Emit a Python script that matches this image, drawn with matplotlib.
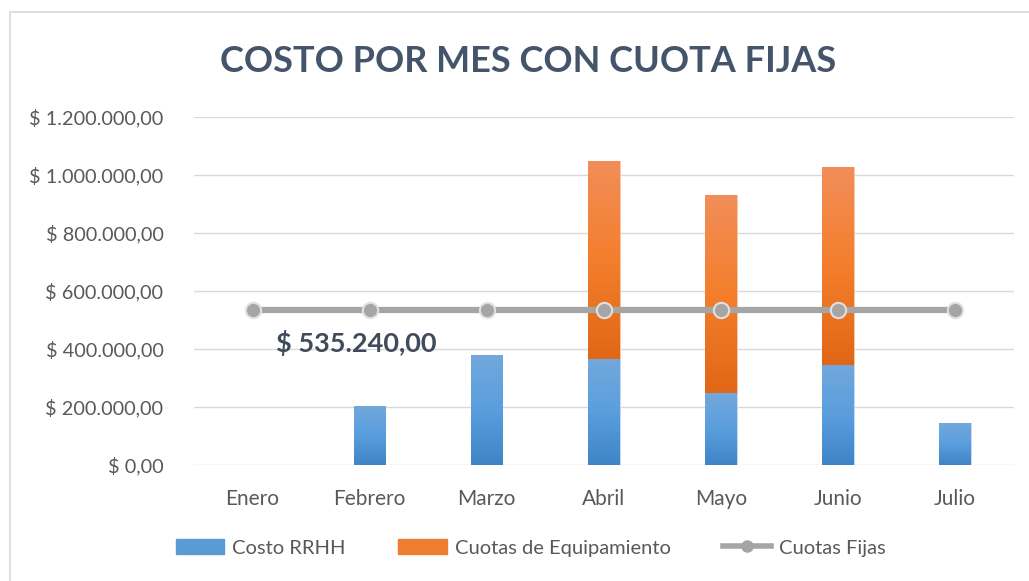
import numpy as np
import matplotlib
matplotlib.use("Agg")
import matplotlib.pyplot as plt
from matplotlib.patches import Rectangle, Patch
from matplotlib.lines import Line2D
from matplotlib.colors import LinearSegmentedColormap
from matplotlib.ticker import FuncFormatter

meses = ["Enero", "Febrero", "Marzo", "Abril", "Mayo", "Junio", "Julio"]
costo_rrhh = [0, 204000, 378000, 364000, 248000, 343000, 144000]
cuotas_equip = [0, 0, 0, 684000, 682000, 683000, 0]
cuotas_fijas = [535240, 535240, 535240, 535240, 535240, 535240, 535240]

plt.rcParams['font.family'] = ['Lato', 'DejaVu Sans']


def fmt_pesos(v, pos=None):
    s = f"{v:,.2f}"
    s = s.replace(",", "X").replace(".", ",").replace("X", ".")
    return "$ " + s


fig = plt.figure(figsize=(10.29, 5.81), dpi=100)
ax = fig.add_axes([0.1885, 0.1997, 0.7965, 0.599])

# chart frame
fig.patches.append(Rectangle((10 / 1029, -0.2), 1.2, 1.2 - 12 / 581, transform=fig.transFigure,
                             fill=False, edgecolor="#D9D9D9", lw=1.2, zorder=0))

x = np.arange(len(meses))
w = 0.27
blue_cmap = LinearSegmentedColormap.from_list("b", ["#3F84C6", "#5A9EDE", "#72A8DC"])
orange_cmap = LinearSegmentedColormap.from_list("o", ["#E06716", "#F47E2C", "#F18E5A"])

b1 = ax.bar(x, costo_rrhh, w, color="#5B9BD5", edgecolor="#C9DDF0", lw=0.6, zorder=2)
b2 = ax.bar(x, cuotas_equip, w, bottom=costo_rrhh, color="#ED7D31", edgecolor="#F8C9A8", lw=0.6, zorder=2)

grad = np.linspace(0, 1, 256).reshape(-1, 1)
for bars, cmap in ((b1, blue_cmap), (b2, orange_cmap)):
    for p in bars:
        if p.get_height() <= 0:
            continue
        x0, y0 = p.get_x(), p.get_y()
        im = ax.imshow(grad, cmap=cmap, aspect="auto", origin="lower",
                       extent=(x0, x0 + p.get_width(), y0, y0 + p.get_height()), zorder=2.5)
        im.set_clip_path(p)

ax.plot(x, cuotas_fijas, color="#A5A5A5", lw=4.5, marker="o", ms=11,
        markerfacecolor="#A5A5A5", markeredgecolor="#E0E0E0", markeredgewidth=1.5, zorder=4)

ax.text(0.89, 419000, fmt_pesos(cuotas_fijas[0]), ha="center", va="center",
        fontsize=19.5, fontweight="bold", color="#404B5C", zorder=5)

ax.set_xlim(-0.5, len(meses) - 0.5)
ax.set_ylim(0, 1200000)
ax.set_yticks(np.arange(0, 1200001, 200000))
ax.yaxis.set_major_formatter(FuncFormatter(fmt_pesos))
ax.set_xticks(x)
ax.set_xticklabels(meses)
ax.grid(axis="y", color="#D9D9D9", lw=1)
ax.set_axisbelow(True)
for s in ax.spines.values():
    s.set_visible(False)
ax.tick_params(axis="both", length=0, colors="#595959")
ax.tick_params(axis="y", pad=22, labelsize=14.3)
ax.tick_params(axis="x", pad=17, labelsize=15)

fig.text(0.513, 0.895, "COSTO POR MES CON CUOTA FIJAS", ha="center", va="center",
         fontsize=26, fontweight="bold", color="#44546A")

handles = [Patch(facecolor="#5B9BD5", edgecolor="#5B9BD5"),
           Patch(facecolor="#ED7D31", edgecolor="#ED7D31"),
           Line2D([0], [0], color="#A5A5A5", lw=4, marker="o", ms=8,
                  markerfacecolor="#A5A5A5", markeredgecolor="#A5A5A5")]
fig.legend(handles, ["Costo RRHH", "Cuotas de Equipamiento", "Cuotas Fijas"],
           loc="center", bbox_to_anchor=(0.516, 0.057), ncol=3, frameon=False,
           fontsize=14.5, labelcolor="#595959", handlelength=2.4, handleheight=0.75,
           handletextpad=0.4, columnspacing=2.6)

fig.savefig("out.png", dpi=100)
